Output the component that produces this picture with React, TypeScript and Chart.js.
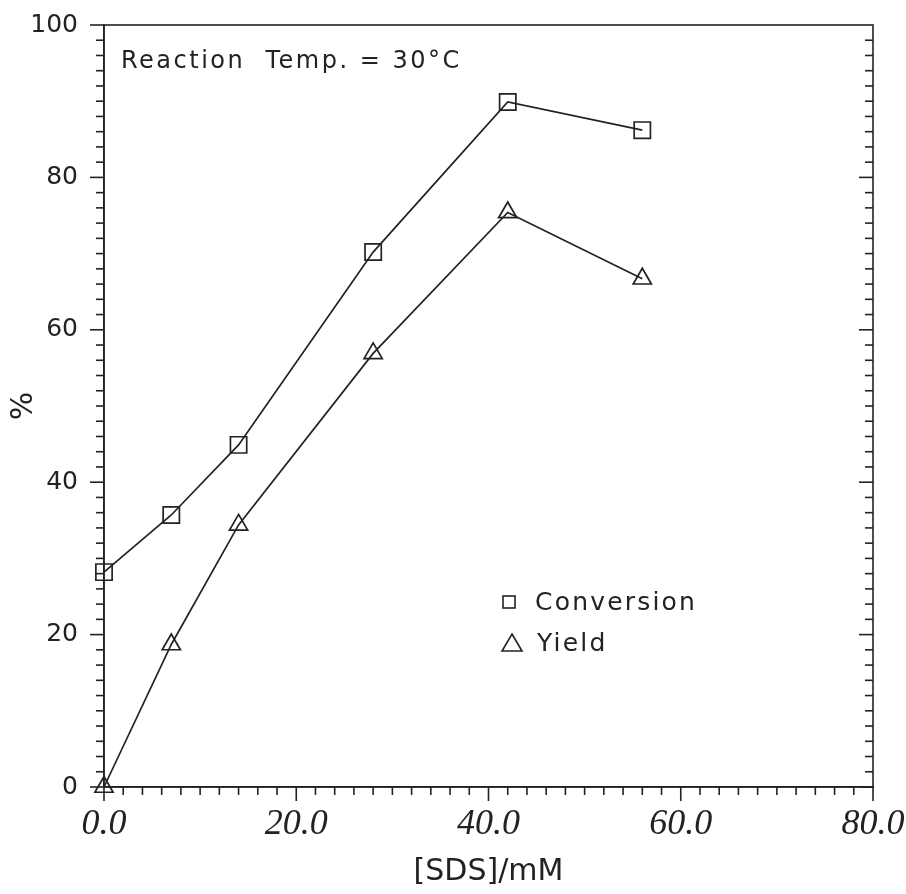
import React, { useEffect, useRef } from 'react';
import { Chart, registerables } from 'chart.js';

Chart.register(...registerables);

// ---- data ----
const sdsConc = [0, 7, 14, 28, 42, 56];
const conversion = [28.2, 35.7, 44.9, 70.2, 89.9, 86.2];
const yieldPct = [0, 18.7, 34.4, 56.9, 75.4, 66.7];

const seriesNames = ['Conversion', 'Yield'];
const annotationText = 'Reaction  Temp. = 30°C';
const xAxisTitle = '[SDS]/mM';
const yAxisTitle = '%';

const X_MIN = 0;
const X_MAX = 80;
const Y_MIN = 0;
const Y_MAX = 100;
const MINOR_STEP = 2;
const MAJOR_STEP = 20;

const INK = '#222222';

const isMajor = (v: number) => Math.abs(v / MAJOR_STEP - Math.round(v / MAJOR_STEP)) < 1e-6;

const framePlugin = {
  id: 'frameAndNotes',
  afterDraw(chart: any) {
    const { ctx, chartArea } = chart;
    const { left, right, top, bottom } = chartArea;
    const xs = chart.scales.x;
    const ys = chart.scales.y;
    ctx.save();
    ctx.strokeStyle = INK;
    ctx.lineWidth = 1.6;
    ctx.strokeRect(left, top, right - left, bottom - top);
    const seg = (x1: number, y1: number, x2: number, y2: number) => {
      ctx.beginPath();
      ctx.moveTo(x1, y1);
      ctx.lineTo(x2, y2);
      ctx.stroke();
    };
    ys.ticks.forEach((t: any) => {
      const py = ys.getPixelForValue(t.value);
      const len = isMajor(t.value) ? 14 : 8;
      seg(left - len, py, left, py);
      if (t.value < Y_MAX) seg(right - len, py, right, py);
    });
    xs.ticks.forEach((t: any) => {
      const px = xs.getPixelForValue(t.value);
      const len = isMajor(t.value) ? 14 : 8;
      seg(px, bottom, px, bottom + len);
    });

    // annotation
    ctx.fillStyle = INK;
    ctx.font = '24px "DejaVu Sans"';
    (ctx as any).letterSpacing = '2.5px';
    ctx.textBaseline = 'middle';
    ctx.textAlign = 'left';
    ctx.fillText(annotationText, left + 17, top + 37);

    // legend
    ctx.font = '25px "DejaVu Sans"';
    (ctx as any).letterSpacing = '2.2px';
    const lx = left + 405;
    const ly1 = top + 577;
    const ly2 = top + 618;
    ctx.lineWidth = 1.6;
    ctx.strokeRect(lx - 6, ly1 - 6, 12, 12);
    ctx.beginPath();
    ctx.moveTo(lx + 3, ly2 - 9);
    ctx.lineTo(lx + 13, ly2 + 8);
    ctx.lineTo(lx - 7, ly2 + 8);
    ctx.closePath();
    ctx.stroke();
    ctx.fillText(seriesNames[0], lx + 26, ly1 + 1);
    ctx.fillText(seriesNames[1], lx + 28, ly2 + 1);
    ctx.restore();
  },
};

export default function App() {
  const ref = useRef<HTMLCanvasElement | null>(null);
  useEffect(() => {
    if (!ref.current) return;
    const chart = new Chart(ref.current, {
      type: 'line',
      data: {
        datasets: [
          {
            label: seriesNames[0],
            data: sdsConc.map((x, i) => ({ x, y: conversion[i] })),
            borderColor: INK,
            borderWidth: 1.7,
            pointStyle: 'rect',
            pointRadius: 11.5,
            pointBorderWidth: 1.7,
            pointBorderColor: INK,
            pointBackgroundColor: 'rgba(0,0,0,0)',
            clip: false as any,
          },
          {
            label: seriesNames[1],
            data: sdsConc.map((x, i) => ({ x, y: yieldPct[i] })),
            borderColor: INK,
            borderWidth: 1.7,
            pointStyle: 'triangle',
            pointRadius: 10.5,
            pointBorderWidth: 1.7,
            pointBorderColor: INK,
            pointBackgroundColor: 'rgba(0,0,0,0)',
            clip: false as any,
          },
        ],
      },
      options: {
        animation: false,
        responsive: false,
        layout: { padding: { top: 25, right: 33, left: 0, bottom: 0 } },
        plugins: { legend: { display: false }, tooltip: { enabled: false } },
        scales: {
          x: {
            type: 'linear',
            min: X_MIN,
            max: X_MAX,
            afterFit: (s: any) => {
              s.height = 107;
              s.paddingLeft = 0;
              s.paddingRight = 0;
            },
            ticks: {
              stepSize: MINOR_STEP,
              maxTicksLimit: 100,
              autoSkip: false,
              maxRotation: 0,
              padding: 16,
              color: INK,
              font: { family: '"Liberation Serif"', style: 'italic', size: 36 },
              callback: (v: any) => (isMajor(Number(v)) ? Number(v).toFixed(1) : ''),
            },
            grid: { display: false, drawTicks: false },
            border: { display: true, color: INK, width: 1.6 },
            title: {
              display: true,
              text: xAxisTitle,
              color: INK,
              font: { family: '"DejaVu Sans"', size: 30 },
              padding: { top: 0, bottom: 4 },
            },
          },
          y: {
            type: 'linear',
            min: Y_MIN,
            max: Y_MAX,
            afterFit: (s: any) => {
              s.width = 104;
              s.paddingTop = 0;
              s.paddingBottom = 0;
            },
            ticks: {
              stepSize: MINOR_STEP,
              maxTicksLimit: 100,
              autoSkip: false,
              padding: 26,
              color: INK,
              font: { family: '"DejaVu Sans"', size: 25 },
              callback: (v: any) => (isMajor(Number(v)) ? String(Number(v)) : ''),
            },
            grid: { display: false, drawTicks: false },
            border: { display: true, color: INK, width: 1.6 },
            title: {
              display: true,
              text: yAxisTitle,
              color: INK,
              font: { family: '"DejaVu Sans"', size: 30 },
              padding: { top: 6, bottom: 0 },
            },
          },
        },
      },
      plugins: [framePlugin],
    });
    return () => chart.destroy();
  }, []);
  return (
    <div style={{ position: 'absolute', left: 0, top: 0, width: 906, height: 894, background: '#fff' }}>
      <canvas ref={ref} width={906} height={894} style={{ display: 'block' }} />
    </div>
  );
}
